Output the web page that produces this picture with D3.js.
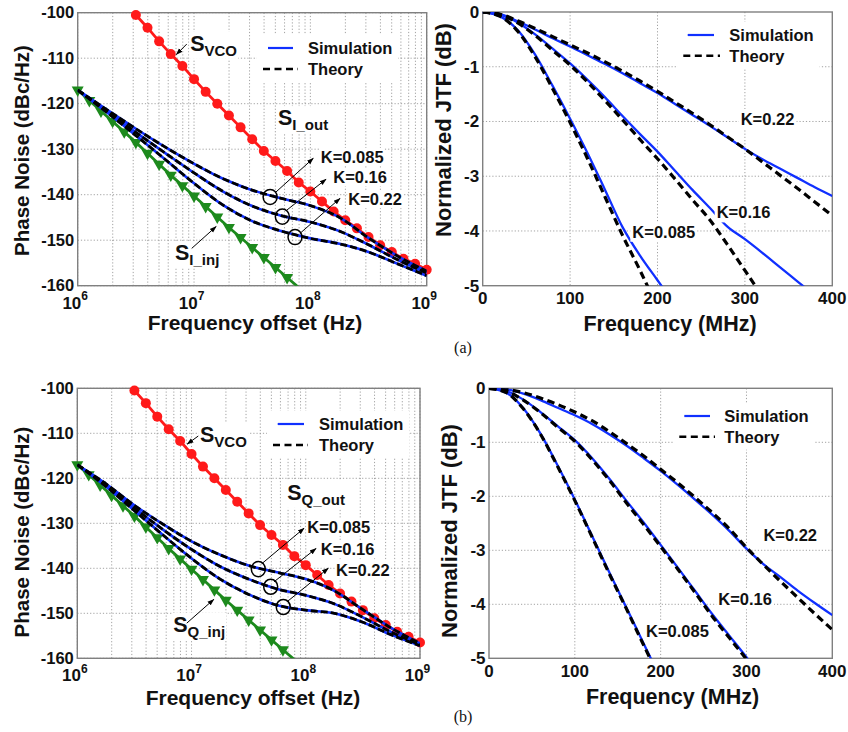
<!DOCTYPE html>
<html>
<head>
<meta charset="utf-8">
<script src="https://cdn.jsdelivr.net/npm/d3@7"></script>
<style>
  body { margin: 0; background: #fff; }
  text { font-family: "Liberation Sans", Arial, sans-serif; font-weight: bold; fill: #111; }
  .grid line { stroke: #8a8a8a; stroke-width: 0.8; stroke-dasharray: 1.2,2; }
  .frame { fill: none; stroke: #808080; stroke-width: 1.4; }
</style>
</head>
<body>
<script>
// ---------- data: phase noise panels (x = log10 of offset frequency, dBc/Hz) ----------
const pnLogF = [6, 6.25, 6.5, 6.75, 7, 7.25, 7.5, 7.75, 8, 8.25, 8.5, 8.75, 9];
const outA_K085 = [-117, -121.3, -125.5, -129.5, -133.2, -136.5, -139.0, -140.8, -142.4, -145.0, -149.5, -153.5, -156.8];
const outA_K16  = [-117, -121.6, -126.3, -130.8, -135.2, -139.3, -142.5, -144.6, -146.0, -148.0, -151.0, -154.3, -157.2];
const outA_K22  = [-117, -121.9, -127.0, -132.2, -137.5, -142.3, -145.8, -148.0, -149.6, -150.8, -152.6, -155.2, -157.8];
const outB_K085 = [-117, -121.2, -126.0, -130.2, -134.0, -137.0, -139.4, -140.9, -142.4, -145.0, -149.2, -153.3, -156.7];
const outB_K16  = [-117, -121.5, -126.6, -131.4, -135.8, -139.6, -142.4, -144.6, -146.0, -147.9, -150.9, -154.2, -157.0];
const outB_K22  = [-117, -121.8, -127.2, -132.6, -137.8, -142.4, -145.8, -148.2, -149.3, -150.0, -152.0, -154.8, -157.2];

const vcoLogF = [6.5, 6.6, 6.7, 6.8, 6.9, 7.0, 7.1, 7.2, 7.3, 7.4, 7.5, 7.6, 7.7, 7.8, 7.9, 8.0, 8.1, 8.2, 8.3, 8.4, 8.5, 8.6, 8.7, 8.8, 8.9, 9.0];
const vcoDb = [-100.5, -103.3, -106.3, -109.1, -111.7, -114.6, -117.4, -120.0, -122.6, -125.2, -127.8, -130.4, -132.6,
               -134.8, -137.3, -139.3, -141.5, -143.7, -145.6, -147.4, -149.3, -151.1, -152.6, -154.1, -155.2, -156.5];

const injLogF = [6.0, 6.1, 6.2, 6.3, 6.4, 6.5, 6.6, 6.7, 6.8, 6.9, 7.0, 7.1, 7.2, 7.3, 7.4, 7.5, 7.6, 7.7, 7.8, 7.9];
const injA = [-117.0, -119.3, -121.6, -123.9, -126.2, -128.5, -130.9, -133.3, -135.7, -138.0, -140.3, -142.6, -144.9,
              -147.2, -149.4, -151.6, -153.8, -156.0, -158.2, -160.4];
const injB = [-117.0, -119.2, -121.5, -123.8, -126.1, -128.4, -130.8, -133.2, -135.6, -137.9, -140.2, -142.5, -144.8,
              -147.1, -149.3, -151.5, -153.7, -155.9, -158.1, -160.3];

const pnTicksY = [-160, -150, -140, -130, -120, -110, -100];
const pnTickExp = [6, 7, 8, 9];

// ---------- data: jitter transfer panels (MHz, dB) ----------
const jtfF = [0, 20, 40, 60, 80, 100, 120, 140, 160, 180, 200, 220, 240, 260, 280, 300, 320, 340, 360, 380, 400];
const thA_K085 = [0, -0.08, -0.35, -0.82, -1.40, -2.02, -2.68, -3.38, -4.08, -4.72, -5.40];
const simA_K085 = [0, -0.08, -0.33, -0.78, -1.35, -1.95, -2.58, -3.25, -3.93, -4.45, -4.90, -5.35];
const thA_K16 = [0, -0.05, -0.20, -0.43, -0.70, -0.97, -1.28, -1.62, -1.97, -2.33, -2.68, -3.05, -3.43, -3.80, -4.25, -4.72, -5.20];
const simA_K16 = [0, -0.05, -0.19, -0.41, -0.67, -0.94, -1.24, -1.56, -1.90, -2.23, -2.55, -2.90, -3.25, -3.58, -3.92, -4.15, -4.40, -4.66, -4.92, -5.18];
const thA_K22 = [0, -0.04, -0.16, -0.30, -0.45, -0.60, -0.75, -0.91, -1.08, -1.26, -1.45, -1.65, -1.85, -2.06, -2.28, -2.50, -2.74, -2.98, -3.22, -3.47, -3.72];
const simA_K22 = [0, -0.04, -0.17, -0.32, -0.48, -0.63, -0.79, -0.95, -1.12, -1.30, -1.48, -1.68, -1.88, -2.08, -2.29, -2.50, -2.69, -2.86, -3.03, -3.20, -3.36];

const thB_K085 = [0, -0.08, -0.38, -0.85, -1.45, -2.08, -2.75, -3.43, -4.08, -4.75, -5.40];
const simB_K085 = [0, -0.08, -0.37, -0.84, -1.43, -2.06, -2.73, -3.40, -4.06, -4.72, -5.38];
const thB_K16 = [0, -0.05, -0.22, -0.45, -0.72, -0.98, -1.32, -1.70, -2.12, -2.52, -2.93, -3.35, -3.78, -4.22, -4.62, -5.02, -5.45];
const simB_K16 = [0, -0.05, -0.21, -0.44, -0.70, -0.96, -1.29, -1.67, -2.08, -2.48, -2.90, -3.32, -3.75, -4.18, -4.58, -4.98, -5.40];
const thB_K22 = [0, -0.02, -0.08, -0.18, -0.30, -0.44, -0.60, -0.80, -1.02, -1.25, -1.50, -1.75, -2.02, -2.30, -2.60, -2.95, -3.27, -3.58, -3.88, -4.18, -4.47];
const simB_K22 = [0, -0.02, -0.10, -0.22, -0.36, -0.50, -0.66, -0.85, -1.06, -1.29, -1.53, -1.79, -2.06, -2.34, -2.64, -2.97, -3.26, -3.50, -3.75, -3.98, -4.20];

const jtfTicksX = [0, 100, 200, 300, 400];
const jtfTicksY = [0, -1, -2, -3, -4, -5];

// ---------- layout ----------
const BLUE = '#1030ff', RED = '#ff1a1a', GREEN = '#1d8a1d';

const svg = d3.select('body').append('svg').attr('width', 848).attr('height', 732);
const defs = svg.append('defs');
defs.append('marker')
  .attr('id', 'arr').attr('viewBox', '0 0 10 10')
  .attr('refX', 9).attr('refY', 5)
  .attr('markerWidth', 7).attr('markerHeight', 7)
  .attr('orient', 'auto')
  .append('path').attr('d', 'M0,1.5L10,5L0,8.5Z').attr('fill', '#000');

// text with a white box behind it (MATLAB text with background)
function boxedText(g, x, y, build, pad) {
  const grp = g.append('g');
  const rect = grp.append('rect').attr('fill', '#fff');
  const t = grp.append('text').attr('x', x).attr('y', y);
  build(t);
  const b = t.node().getBBox();
  rect.attr('x', b.x - pad).attr('y', b.y - pad + 1)
    .attr('width', b.width + 2 * pad).attr('height', b.height + 2 * pad - 2);
  return grp;
}

function legend(g, lg) {
  const grp = g.append('g');
  const bg = grp.append('rect').attr('fill', '#fff');
  grp.append('line').attr('x1', lg.sx0).attr('x2', lg.sx1).attr('y1', lg.y1).attr('y2', lg.y1)
    .attr('stroke', BLUE).attr('stroke-width', 2.2);
  grp.append('line').attr('x1', lg.dx0).attr('x2', lg.dx1).attr('y1', lg.y2).attr('y2', lg.y2)
    .attr('stroke', '#000').attr('stroke-width', 2.6).attr('stroke-dasharray', '7,4.5');
  grp.append('text').attr('x', lg.tx).attr('y', lg.y1).attr('dy', '0.36em')
    .style('font-size', '16.5px').text('Simulation');
  grp.append('text').attr('x', lg.tx).attr('y', lg.y2).attr('dy', '0.36em')
    .style('font-size', '16.5px').text('Theory');
  const b = grp.node().getBBox();
  bg.attr('x', b.x - 6).attr('y', b.y - 4).attr('width', b.width + 12).attr('height', b.height + 8);
}

function clipFor(id, p) {
  defs.append('clipPath').attr('id', id).append('rect')
    .attr('x', p.x0).attr('y', p.y0).attr('width', p.x1 - p.x0).attr('height', p.y1 - p.y0);
  return `url(#${id})`;
}

// ---------- phase noise panel ----------
function pnPanel(cfg) {
  const p = cfg.box;
  const x = d3.scaleLinear().domain([6, 9]).range([p.x0, p.x1]);   // log10(Hz)
  const y = d3.scaleLinear().domain([-160, -100]).range([p.y1, p.y0]);
  const fx = d => x(Math.log10(d));
  const g = svg.append('g');
  const clip = clipFor(cfg.id, p);

  // grid
  const grid = g.append('g').attr('class', 'grid');
  const xl = d3.scaleLog().domain([1e6, 1e9]);
  grid.selectAll('.v').data(xl.ticks()).join('line')
    .attr('x1', fx).attr('x2', fx).attr('y1', p.y0).attr('y2', p.y1);
  grid.selectAll('.h').data(pnTicksY).join('line')
    .attr('x1', p.x0).attr('x2', p.x1).attr('y1', y).attr('y2', y);

  g.append('rect').attr('class', 'frame')
    .attr('x', p.x0).attr('y', p.y0).attr('width', p.x1 - p.x0).attr('height', p.y1 - p.y0);

  // tick labels
  g.selectAll('.yt').data(pnTicksY).join('text')
    .attr('x', p.x0 - 3.5).attr('y', y).attr('dy', '0.35em')
    .attr('text-anchor', 'end').style('font-size', '16.5px').text(d => d);
  const xt = g.selectAll('.xt').data(pnTickExp).join('text')
    .attr('x', d => x(d) - 2.5).attr('y', p.y1 + 23).attr('text-anchor', 'middle')
    .style('font-size', '17px');
  xt.append('tspan').text('10');
  xt.append('tspan').attr('dy', -8.5).style('font-size', '12px').text(d => d);

  // titles
  g.append('text').attr('transform', `translate(29,${cfg.ytitleY}) rotate(-90)`)
    .attr('text-anchor', 'middle').style('font-size', '20.5px').text('Phase Noise (dBc/Hz)');
  g.append('text').attr('x', cfg.xtitleX).attr('y', cfg.xtitleBase)
    .attr('text-anchor', 'middle').style('font-size', '21px').text('Frequency offset (Hz)');

  // injection noise (green, triangles)
  const inj = injLogF.map((f, i) => [f, cfg.inj[i]]);
  const lin = d3.line().x(d => x(d[0])).y(d => y(d[1]));
  g.append('path').datum(inj).attr('clip-path', clip)
    .attr('d', lin).attr('fill', 'none').attr('stroke', GREEN).attr('stroke-width', 2.8);
  g.selectAll('.tri').data(inj.filter(d => d[1] >= -160)).join('path')
    .attr('transform', d => `translate(${x(d[0])},${y(d[1])}) rotate(180)`)
    .attr('d', d3.symbol(d3.symbolTriangle, 62)).attr('fill', GREEN);

  // VCO noise (red, circles)
  const vco = vcoLogF.map((f, i) => [f, vcoDb[i]]);
  g.append('path').datum(vco).attr('d', lin)
    .attr('fill', 'none').attr('stroke', RED).attr('stroke-width', 2.8);
  g.selectAll('.dot').data(vco).join('circle')
    .attr('cx', d => x(d[0])).attr('cy', d => y(d[1])).attr('r', 5).attr('fill', RED);

  // output noise, simulation (blue) under theory (black dashed)
  const smooth = d3.line().x(d => x(d[0])).y(d => y(d[1])).curve(d3.curveMonotoneX);
  cfg.out.forEach(arr => {
    const pts = pnLogF.map((f, i) => [f, arr[i]]);
    g.append('path').datum(pts).attr('clip-path', clip).attr('d', smooth)
      .attr('fill', 'none').attr('stroke', BLUE).attr('stroke-width', 2.6);
  });
  cfg.out.forEach(arr => {
    const pts = pnLogF.map((f, i) => [f, arr[i]]);
    g.append('path').datum(pts).attr('clip-path', clip).attr('d', smooth)
      .attr('fill', 'none').attr('stroke', '#000').attr('stroke-width', 2.8)
      .attr('stroke-dasharray', '7,3');
  });

  // annotations
  const a = cfg.ann;
  const sLabel = (pos, sub) => boxedText(g, x(pos[0]), y(pos[1]), t => {
    t.append('tspan').style('font-size', '21.5px').text('S');
    t.append('tspan').attr('dy', 5).style('font-size', '15px').text(sub);
  }, 1);
  sLabel(a.vcoText, 'VCO');
  sLabel(a.outText, cfg.outSub);
  sLabel(a.injText, cfg.injSub);
  const arrow = (s, e) => g.append('line')
    .attr('x1', x(s[0])).attr('y1', y(s[1])).attr('x2', x(e[0])).attr('y2', y(e[1]))
    .attr('stroke', '#000').attr('stroke-width', 1).attr('marker-end', 'url(#arr)');
  arrow(a.vcoArrow[0], a.vcoArrow[1]);
  arrow(a.injArrow[0], a.injArrow[1]);
  a.circles.forEach(c => g.append('ellipse').attr('cx', x(c[0])).attr('cy', y(c[1]))
    .attr('rx', 7).attr('ry', 7.6).attr('fill', 'none').attr('stroke', '#000').attr('stroke-width', 1.5));
  a.kArrows.forEach(k => arrow(k[0], k[1]));
  a.kLabels.forEach(k => boxedText(g, x(k[0]), y(k[1]), t => t.attr('dy', '0.36em')
    .style('font-size', '16.5px').text(k[2]), 1));

  legend(g, cfg.legend);
}

// ---------- jitter transfer panel ----------
function jtfPanel(cfg) {
  const p = cfg.box;
  const x = d3.scaleLinear().domain([0, 400]).range([p.x0, p.x1]);
  const y = d3.scaleLinear().domain([-5, 0]).range([p.y1, p.y0]);
  const g = svg.append('g');
  const clip = clipFor(cfg.id, p);

  const grid = g.append('g').attr('class', 'grid');
  grid.selectAll('.v').data(jtfTicksX.slice(1, -1)).join('line')
    .attr('x1', x).attr('x2', x).attr('y1', p.y0).attr('y2', p.y1);
  grid.selectAll('.h').data(jtfTicksY.slice(1, -1)).join('line')
    .attr('x1', p.x0).attr('x2', p.x1).attr('y1', y).attr('y2', y);

  g.append('rect').attr('class', 'frame')
    .attr('x', p.x0).attr('y', p.y0).attr('width', p.x1 - p.x0).attr('height', p.y1 - p.y0);

  g.selectAll('.yt').data(jtfTicksY).join('text')
    .attr('x', p.x0 - 3.5).attr('y', y).attr('dy', '0.35em')
    .attr('text-anchor', 'end').style('font-size', '17px').text(d => d);
  g.selectAll('.xt').data(jtfTicksX).join('text')
    .attr('x', x).attr('y', p.y1 + 18.4).attr('text-anchor', 'middle')
    .style('font-size', '17px').text(d => d);

  g.append('text').attr('transform', `translate(${cfg.ytitleX},${cfg.ytitleY}) rotate(-90)`)
    .attr('text-anchor', 'middle').style('font-size', '22px').text('Normalized JTF (dB)');
  g.append('text').attr('x', cfg.xtitleX).attr('y', cfg.xtitleBase)
    .attr('text-anchor', 'middle').style('font-size', '21.5px').text('Frequency (MHz)');

  const line = d3.line().x(d => x(d[0])).y(d => y(d[1])).curve(d3.curveMonotoneX);
  const toPts = arr => arr.map((v, i) => [jtfF[i], v]);
  cfg.sim.forEach(arr => g.append('path').datum(toPts(arr)).attr('clip-path', clip)
    .attr('d', line).attr('fill', 'none').attr('stroke', BLUE).attr('stroke-width', 2.3));
  cfg.theory.forEach(arr => g.append('path').datum(toPts(arr)).attr('clip-path', clip)
    .attr('d', line).attr('fill', 'none').attr('stroke', '#000').attr('stroke-width', 3.2)
    .attr('stroke-dasharray', '7.5,4.5'));

  cfg.kLabels.forEach(k => boxedText(g, x(k[0]), y(k[1]), t => t.attr('dy', '0.36em')
    .style('font-size', '16.5px').text(k[2]), 2));

  legend(g, cfg.legend);
}

// ---------- panels ----------
pnPanel({
  id: 'cA', box: {x0: 77.7, x1: 426.7, y0: 12.7, y1: 285.7},
  out: [outA_K085, outA_K16, outA_K22], inj: injA, outSub: 'I_out', injSub: 'I_inj',
  ytitleY: 150.5, xtitleX: 255, xtitleBase: 330,
  ann: {
    vcoText: [6.967, -108.4], vcoArrow: [[6.937, -106.9], [6.848, -109.2]],
    outText: [7.722, -124.7],
    injText: [6.836, -154.4], injArrow: [[6.98, -151.8], [7.19, -147.0]],
    circles: [[7.654, -140.5], [7.759, -144.8], [7.868, -149.3]],
    kArrows: [[[7.696, -139.6], [8.025, -132.0]], [[7.797, -143.4], [8.135, -136.6]], [[7.911, -148.5], [8.255, -140.8]]],
    kLabels: [[8.089, -131.7, 'K=0.085'], [8.197, -136.2, 'K=0.16'], [8.326, -141.0, 'K=0.22']]
  },
  legend: {sx0: 268, sx1: 293, dx0: 263, dx1: 298, tx: 308, y1: 48, y2: 69}
});

jtfPanel({
  id: 'cB', box: {x0: 482.7, x1: 832.3, y0: 12, y1: 285.7},
  sim: [simA_K085, simA_K16, simA_K22], theory: [thA_K085, thA_K16, thA_K22],
  ytitleX: 451, ytitleY: 130, xtitleX: 670, xtitleBase: 331,
  kLabels: [[295.2, -1.956, 'K=0.22'], [267.7, -3.662, 'K=0.16'], [171.2, -4.016, 'K=0.085']],
  legend: {sx0: 687.7, sx1: 714, dx0: 683.3, dx1: 720, tx: 729.3, y1: 35, y2: 55.7}
});

pnPanel({
  id: 'cC', box: {x0: 77.3, x1: 420, y0: 388.3, y1: 658.3},
  out: [outB_K085, outB_K16, outB_K22], inj: injB, outSub: 'Q_out', injSub: 'Q_inj',
  ytitleY: 532, xtitleX: 253, xtitleBase: 705,
  ann: {
    vcoText: [7.074, -111.9], vcoArrow: [[7.059, -110.6], [6.962, -112.4]],
    outText: [7.838, -124.8],
    injText: [6.84, -154.1], injArrow: [[6.958, -152.2], [7.195, -146.9]],
    circles: [[7.585, -140.2], [7.693, -144.1], [7.803, -148.6]],
    kArrows: [[[7.614, -139.0], [7.985, -131.1]], [[7.722, -143.0], [8.09, -135.6]], [[7.838, -147.4], [8.197, -140.0]]],
    kLabels: [[8.013, -130.8, 'K=0.085'], [8.131, -135.8, 'K=0.16'], [8.265, -140.4, 'K=0.22']]
  },
  legend: {sx0: 277.7, sx1: 304, dx0: 273, dx1: 308, tx: 319, y1: 424, y2: 445}
});

jtfPanel({
  id: 'cD', box: {x0: 489, x1: 832.3, y0: 388.3, y1: 658.3},
  sim: [simB_K085, simB_K16, simB_K22], theory: [thB_K085, thB_K16, thB_K22],
  ytitleX: 457, ytitleY: 531, xtitleX: 672.5, xtitleBase: 704,
  kLabels: [[319.7, -2.717, 'K=0.22'], [267.2, -3.907, 'K=0.16'], [183, -4.494, 'K=0.085']],
  legend: {sx0: 684.3, sx1: 710, dx0: 679.3, dx1: 715, tx: 724.3, y1: 416, y2: 436.7}
});

// figure captions
[['(a)', 353], ['(b)', 722]].forEach(c => svg.append('text')
  .attr('x', 463).attr('y', c[1]).attr('text-anchor', 'middle')
  .style('font-family', '"Liberation Serif", "Times New Roman", serif')
  .style('font-weight', 'normal').style('font-size', '16px').text(c[0]));
</script>
</body>
</html>
